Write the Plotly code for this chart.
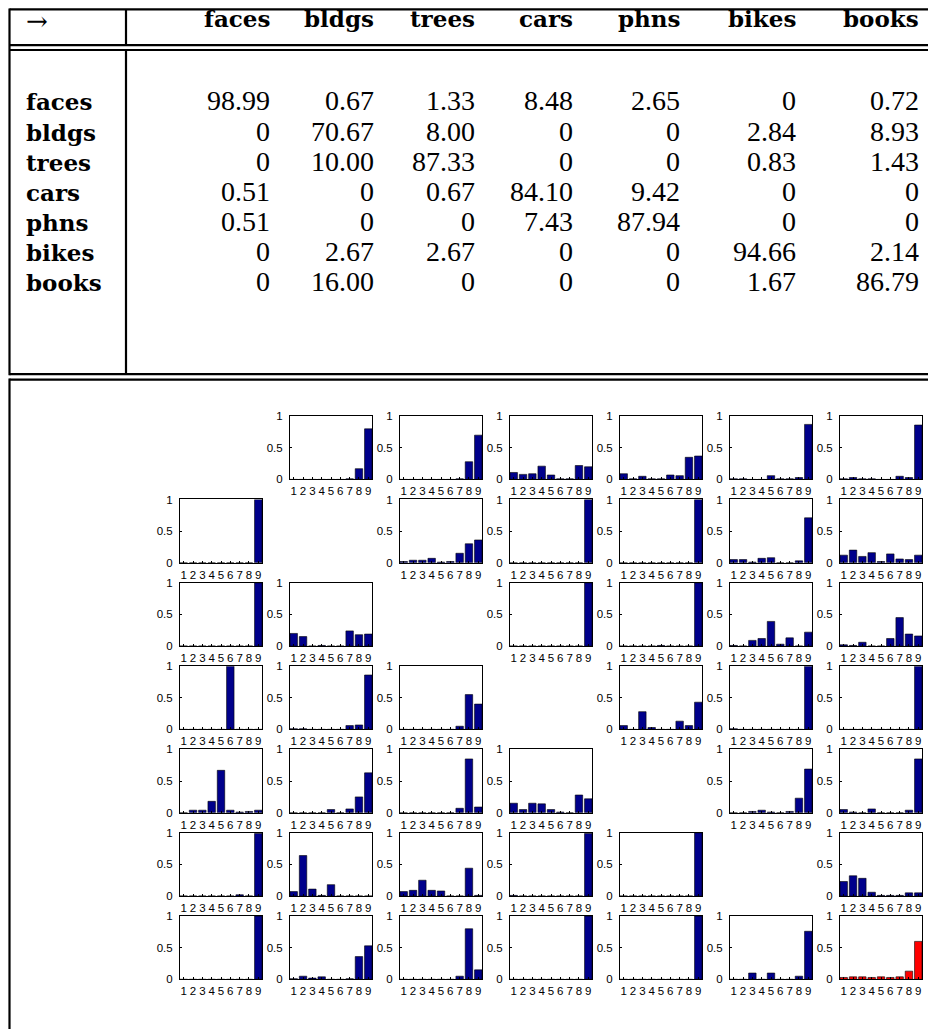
import plotly.graph_objects as go

# ---------------- data ----------------
categories = ["faces", "bldgs", "trees", "cars", "phns", "bikes", "books"]

conf_faces = [98.99, 0.67, 1.33, 8.48, 2.65, 0, 0.72]
conf_bldgs = [0, 70.67, 8.00, 0, 0, 2.84, 8.93]
conf_trees = [0, 10.00, 87.33, 0, 0, 0.83, 1.43]
conf_cars = [0.51, 0, 0.67, 84.10, 9.42, 0, 0]
conf_phns = [0.51, 0, 0, 7.43, 87.94, 0, 0]
conf_bikes = [0, 2.67, 2.67, 0, 0, 94.66, 2.14]
conf_books = [0, 16.00, 0, 0, 0, 1.67, 86.79]

bins = [1, 2, 3, 4, 5, 6, 7, 8, 9]
bin_labels = ["1", "2", "3", "4", "5", "6", "7", "8", "9"]

hist_faces = [
    None,
    [0, 0, 0, 0, 0, 0, 0.01, 0.17, 0.80],
    [0, 0, 0, 0, 0, 0, 0.01, 0.28, 0.70],
    [0.11, 0.08, 0.09, 0.21, 0.07, 0.01, 0.01, 0.22, 0.20],
    [0.09, 0.01, 0.05, 0.01, 0.01, 0.07, 0.06, 0.35, 0.37],
    [0.01, 0.01, 0, 0, 0.06, 0.01, 0.01, 0.03, 0.87],
    [0.01, 0.03, 0.01, 0.01, 0, 0, 0.05, 0.03, 0.86],
]
hist_bldgs = [
    [0, 0, 0, 0, 0, 0, 0, 0, 1.0],
    None,
    [0.02, 0.04, 0.04, 0.07, 0.01, 0.02, 0.15, 0.30, 0.36],
    [0, 0, 0, 0, 0, 0, 0, 0, 1.0],
    [0, 0, 0, 0, 0, 0, 0, 0, 1.0],
    [0.05, 0.05, 0.01, 0.07, 0.08, 0, 0, 0.03, 0.71],
    [0.12, 0.20, 0.10, 0.16, 0.02, 0.14, 0.06, 0.05, 0.12],
]
hist_trees = [
    [0, 0, 0, 0, 0, 0, 0, 0, 1.0],
    [0.20, 0.15, 0, 0.01, 0, 0, 0.24, 0.18, 0.19],
    None,
    [0, 0, 0, 0, 0, 0, 0, 0, 1.0],
    [0, 0, 0, 0, 0.01, 0, 0, 0, 1.0],
    [0.01, 0, 0.09, 0.12, 0.39, 0.03, 0.13, 0, 0.22],
    [0.02, 0.01, 0.06, 0, 0, 0.12, 0.45, 0.19, 0.16],
]
hist_cars = [
    [0, 0, 0, 0, 0, 1.0, 0, 0, 0],
    [0.01, 0.01, 0, 0, 0, 0, 0.06, 0.07, 0.86],
    [0, 0, 0, 0, 0, 0, 0.05, 0.55, 0.40],
    None,
    [0.06, 0, 0.28, 0.03, 0, 0, 0.13, 0.06, 0.43],
    [0.01, 0, 0, 0, 0, 0, 0, 0, 1.0],
    [0, 0, 0, 0, 0, 0, 0, 0, 1.0],
]
hist_phns = [
    [0, 0.04, 0.04, 0.18, 0.67, 0.04, 0.01, 0.02, 0.04],
    [0, 0, 0, 0, 0.05, 0, 0.06, 0.25, 0.63],
    [0, 0, 0, 0, 0, 0, 0.07, 0.85, 0.09],
    [0.15, 0.05, 0.15, 0.14, 0.05, 0.01, 0, 0.28, 0.22],
    None,
    [0, 0, 0.02, 0.04, 0.01, 0, 0.02, 0.23, 0.69],
    [0.05, 0.01, 0, 0.06, 0, 0, 0, 0.04, 0.85],
]
hist_bikes = [
    [0, 0, 0, 0, 0, 0, 0.02, 0, 0.99],
    [0.07, 0.64, 0.11, 0.01, 0.18, 0, 0, 0, 0],
    [0.07, 0.09, 0.25, 0.09, 0.08, 0, 0, 0.44, 0.01],
    [0.01, 0, 0, 0, 0, 0, 0, 0, 0.99],
    [0, 0, 0, 0, 0, 0, 0, 0, 1.0],
    None,
    [0.23, 0.32, 0.28, 0.06, 0.01, 0.01, 0.01, 0.05, 0.05],
]
hist_books = [
    [0, 0, 0, 0, 0, 0, 0, 0, 1.0],
    [0.01, 0.05, 0.02, 0.04, 0, 0, 0.01, 0.36, 0.53],
    [0, 0, 0, 0, 0, 0, 0.05, 0.80, 0.15],
    [0, 0, 0, 0, 0, 0, 0, 0, 1.0],
    [0, 0, 0, 0, 0, 0, 0, 0, 1.0],
    [0, 0, 0.10, 0, 0.10, 0, 0, 0.05, 0.76],
    [0.03, 0.04, 0.04, 0.03, 0.04, 0.03, 0.04, 0.13, 0.60],
]
highlight = ("books", "books")

# ---------------- layout helpers ----------------
W, H = 928, 1033


def fx(x):
    return x / W


def fy(y):
    return 1 - y / H


conf_rows = [conf_faces, conf_bldgs, conf_trees, conf_cars, conf_phns, conf_bikes, conf_books]
hist_rows = [hist_faces, hist_bldgs, hist_trees, hist_cars, hist_phns, hist_bikes, hist_books]

NAVY = "#00008B"
RED = "#FF0000"
TICKFONT = dict(family="Liberation Sans, Arial, sans-serif", size=11.5, color="black")

fig = go.Figure()
layout_axes = {}

box_left0, box_pitch_x, box_w = 180, 110, 82
box_top0, box_pitch_y, box_h = 415, 84.3, 64

n = 0
for r in range(7):
    for c in range(7):
        vals = hist_rows[r][c]
        if vals is None:
            continue
        n += 1
        sfx = "" if n == 1 else str(n)
        color = RED if (categories[r], categories[c]) == highlight else NAVY
        fig.add_trace(go.Bar(
            x=bins, y=vals, width=0.8,
            marker=dict(color=color, line=dict(color="black", width=0.6)),
            xaxis="x" + sfx, yaxis="y" + sfx, showlegend=False, hoverinfo="skip",
        ))
        x0 = box_left0 + c * box_pitch_x
        y0 = box_top0 + r * box_pitch_y
        layout_axes["xaxis" + sfx] = dict(
            domain=[fx(x0), fx(x0 + box_w)], anchor="y" + sfx,
            range=[0.6, 9.4], tickvals=bins, ticktext=bin_labels,
            showline=True, mirror=True, linecolor="black", linewidth=1,
            ticks="inside", ticklen=2, tickcolor="black", tickwidth=1,
            showgrid=False, zeroline=False, tickfont=TICKFONT,
            ticklabelstandoff=1, fixedrange=True,
        )
        layout_axes["yaxis" + sfx] = dict(
            domain=[fy(y0 + box_h), fy(y0)], anchor="x" + sfx,
            range=[0, 1], tickvals=[0, 0.5, 1], ticktext=["0", "0.5", "1"],
            showline=True, mirror=True, linecolor="black", linewidth=1,
            ticks="inside", ticklen=2, tickcolor="black", tickwidth=1,
            showgrid=False, zeroline=False, tickfont=TICKFONT,
            ticklabelstandoff=4, fixedrange=True,
        )

# ---------------- table (text + rules) ----------------
annotations = []
col_right = [272, 376, 477, 575, 682, 798, 921]
label_left = 24
header_y = 13
row_y0, row_pitch = 97, 30.5

BOLD = dict(family="DejaVu Serif", size=23, color="black")
NUM = dict(family="Liberation Serif", size=28, color="black")

annotations.append(dict(text="→", x=fx(label_left), y=fy(15), xref="paper", yref="paper",
                        xanchor="left", yanchor="middle", showarrow=False,
                        font=dict(family="DejaVu Serif", size=26, color="black")))
for j, name in enumerate(categories):
    annotations.append(dict(text="<b>%s</b>" % name, x=fx(col_right[j]), y=fy(header_y),
                            xref="paper", yref="paper", xanchor="right", yanchor="middle",
                            showarrow=False, font=BOLD))


def fmt(v):
    return "0" if v == 0 else "%.2f" % v


for i, name in enumerate(categories):
    yy = row_y0 + i * row_pitch
    annotations.append(dict(text="<b>%s</b>" % name, x=fx(label_left), y=fy(yy),
                            xref="paper", yref="paper", xanchor="left", yanchor="middle",
                            showarrow=False, font=BOLD))
    for j, v in enumerate(conf_rows[i]):
        annotations.append(dict(text=fmt(v), x=fx(col_right[j]), y=fy(yy - 1),
                                xref="paper", yref="paper", xanchor="right", yanchor="middle",
                                showarrow=False, font=NUM))

LW = 2.2
left_x = 9.5
sep_x = 126
shapes = []


def hline(y, x0=left_x, x1=W + 2):
    shapes.append(dict(type="line", xref="paper", yref="paper", x0=fx(x0), x1=fx(x1),
                       y0=fy(y), y1=fy(y), line=dict(color="black", width=LW)))


def vline(x, y0, y1):
    shapes.append(dict(type="line", xref="paper", yref="paper", x0=fx(x), x1=fx(x),
                       y0=fy(y0), y1=fy(y1), line=dict(color="black", width=LW)))


hline(3.5)
hline(39.5)
hline(44.5)
hline(372.5)
hline(378)
vline(left_x, 2.5, 373.5)
vline(left_x, 377, H + 2)
vline(sep_x, 3.5, 39.5)
vline(sep_x, 44.5, 372.5)

fig.update_layout(
    width=W, height=H, margin=dict(l=0, r=0, t=0, b=0),
    paper_bgcolor="white", plot_bgcolor="white",
    annotations=annotations, shapes=shapes, showlegend=False,
    bargap=0.2,
    **layout_axes,
)

fig.write_html("out.html", config={"displayModeBar": False})
